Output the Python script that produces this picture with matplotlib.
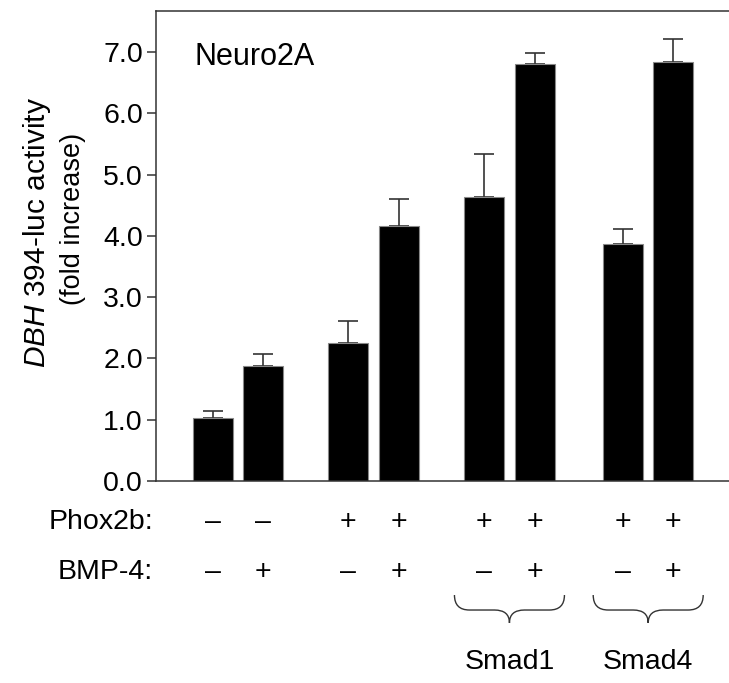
import matplotlib
matplotlib.use("Agg")
import matplotlib.pyplot as plt
from matplotlib.path import Path
from matplotlib.patches import PathPatch
import numpy as np

# values
positions = [0.0, 1.0, 2.71, 3.72, 5.43, 6.44, 8.21, 9.21]
means = [1.02, 1.87, 2.25, 4.16, 4.63, 6.81, 3.86, 6.84]
errs = [0.12, 0.20, 0.36, 0.45, 0.70, 0.18, 0.26, 0.38]
phox2b = ['\u2013', '\u2013', '+', '+', '+', '+', '+', '+']
bmp4 = ['\u2013', '+', '\u2013', '+', '\u2013', '+', '\u2013', '+']
yticks = [0, 1, 2, 3, 4, 5, 6, 7]
smad_names = ['Smad1', 'Smad4']
smad_pairs = [(4, 5), (6, 7)]

plt.rcParams['font.family'] = ['Liberation Sans', 'DejaVu Sans']
plt.rcParams['mathtext.fontset'] = 'custom'
plt.rcParams['mathtext.rm'] = 'Liberation Sans'
plt.rcParams['mathtext.it'] = 'Liberation Sans:italic'

fs = 20.5
line_col = '#333333'

fig = plt.figure(figsize=(7.29, 6.83), dpi=100)
ax = fig.add_axes([156 / 729, 1 - 481 / 683, 1 - 156 / 729, 470 / 683])

ax.bar(positions, means, width=0.8, color='black', edgecolor='#888888', linewidth=0.8, zorder=2)
ax.errorbar(positions, means, yerr=[np.zeros(len(errs)), errs], fmt='none',
            ecolor=line_col, elinewidth=1.2, capsize=7.5, capthick=1.2, zorder=1)

ax.set_xlim(-1.134, 10.326)
ax.set_ylim(0, 7.67)
ax.set_yticks(yticks)
ax.set_yticklabels(['%.1f' % t for t in yticks], fontsize=fs)
ax.set_xticks([])
ax.tick_params(axis='y', length=6.5, width=1.1, color=line_col, pad=3)
for s in ['left', 'bottom', 'top']:
    ax.spines[s].set_color(line_col)
    ax.spines[s].set_linewidth(1.1)
ax.spines['right'].set_visible(False)

ax.text(0.068, 0.885, 'Neuro2A', transform=ax.transAxes, fontsize=22, va='baseline', ha='left')

fig.text(37 / 729, 1 - 233 / 683, r'$\it{DBH}$ 394-luc activity', rotation=90,
         fontsize=21.5, ha='center', va='center')
fig.text(73 / 729, 1 - 219 / 683, '(fold increase)', rotation=90,
         fontsize=19.5, ha='center', va='center')

trans = ax.get_xaxis_transform()
row1 = -0.0872
row2 = -0.1936
ax.text(-0.005, row1, 'Phox2b:', transform=ax.transAxes, fontsize=fs, ha='right', va='center')
ax.text(-0.005, row2, 'BMP-4:', transform=ax.transAxes, fontsize=fs, ha='right', va='center')
for p, a, b in zip(positions, phox2b, bmp4):
    ax.text(p, row1, a, transform=trans, fontsize=fs, ha='center', va='center')
    ax.text(p, row2, b, transform=trans, fontsize=fs, ha='center', va='center')

# curly braces under the Smad pairs
y_top, y_mid, y_tip = -0.2426, -0.2745, -0.302
for name, (i, j) in zip(smad_names, smad_pairs):
    c = (positions[i] + positions[j]) / 2
    x0, x1 = c - 1.1, c + 1.1
    verts = [(x0, y_top), (x0, y_mid), (x0 + 0.3, y_mid),
             (c - 0.3, y_mid), (c, y_mid), (c, y_tip),
             (c, y_mid), (c + 0.3, y_mid),
             (x1 - 0.3, y_mid), (x1, y_mid), (x1, y_top)]
    codes = [Path.MOVETO, Path.CURVE3, Path.CURVE3,
             Path.LINETO, Path.CURVE3, Path.CURVE3,
             Path.CURVE3, Path.CURVE3,
             Path.LINETO, Path.CURVE3, Path.CURVE3]
    ax.add_patch(PathPatch(Path(verts, codes), transform=trans, fill=False,
                           edgecolor=line_col, linewidth=1.0, clip_on=False))
    ax.text(c, -0.385, name, transform=trans, fontsize=fs, ha='center', va='center')

fig.savefig('out.png', dpi=100)
